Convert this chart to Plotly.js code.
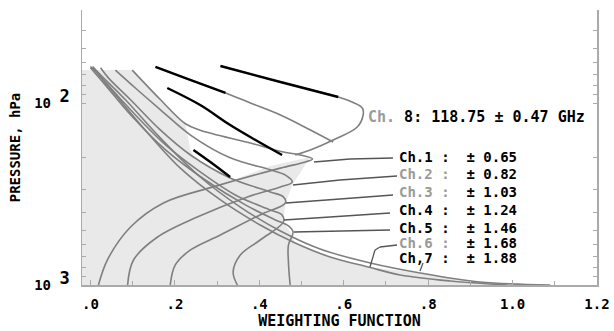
<!DOCTYPE html>
<html><head><meta charset="utf-8">
<script src="https://cdn.plot.ly/plotly-3.0.1.min.js"></script>
<style>html,body{margin:0;padding:0;background:#fff}#c{width:614px;height:331px}</style>
</head><body><div id="c"></div>
<script>
// ---- data (weighting function vs pressure in hPa) ----
const ch1W = [0.019,0.040,0.095,0.173,0.291,0.450,0.509,0.526,0.497,0.457,0.379,0.260,0.225,0.166,0.099];
const ch1P = [1000,729,480,354,289,228,211,203,193,186,166,141,130,96,66];
const ch2W = [0.088,0.102,0.159,0.253,0.372,0.450,0.478,0.462,0.426,0.331,0.237,0.166,0.107,0.059];
const ch2P = [1000,729,545,423,328,289,272,249,233,200,150,109,83,66];
const ch3W = [0.189,0.201,0.237,0.308,0.402,0.462,0.457,0.426,0.331,0.237,0.166,0.095,0.043,0.024];
const ch3P = [1000,776,642,531,412,354,328,308,258,193,141,96,73,64];
const ch4W = [0.348,0.338,0.355,0.402,0.457,0.454,0.426,0.343,0.260,0.178,0.095,0.036,0.007];
const ch4P = [1000,848,684,566,451,412,387,320,239,170,109,77,64];
const ch5W = [0.473,0.469,0.469,0.480,0.469,0.438,0.367,0.272,0.178,0.095,0.036,0.000];
const ch5P = [1000,747,603,511,474,439,363,265,181,116,80,64];
const ch6W = [0.987,0.852,0.734,0.658,0.568,0.485,0.402,0.308,0.213,0.130,0.059,0.012,0.000];
const ch6P = [1000,951,881,796,702,588,468,341,228,141,90,67,63];
const ch7W = [1.089,0.923,0.781,0.663,0.544,0.450,0.355,0.260,0.166,0.083,0.024,0.005];
const ch7P = [1000,963,859,757,634,505,373,255,156,96,70,63];
const ch8W = [0.308,0.450,0.587,0.620,0.644,0.646,0.632,0.575,0.521,0.485];
const ch8P = [62.6,76.7,92.7,98.7,106.5,116.4,135.5,159.7,181.2,193.1];
// second upper curve that joins the Ch.8 loop
const loopW = [0.154,0.225,0.320,0.379,0.450,0.521,0.575];
const loopP = [63.4,72.9,88.1,100,116.4,140.7,163.8];
// darker (black) segments
const blkAW = [0.154,0.225,0.320];
const blkAP = [63.4,72.9,88.1];
const blkBW = [0.182,0.260,0.331,0.391,0.454];
const blkBP = [82.7,102.6,132.1,159.7,193.1];
const blkCW = [0.308,0.450,0.587];
const blkCP = [62.6,76.7,92.7];
const blkDW = [0.244,0.284,0.331];
const blkDP = [181.2,211.0,255.0];
// shaded region outline
const shadeW = [-0.02,0.099,0.166,0.225,0.237,0.249,0.338,0.426,0.521,0.497,0.478,0.462,0.457,0.473,0.485,0.568,0.658,0.781,0.923,1.089,-0.02];
const shadeP = [65.9,65.9,96.3,130.4,181.2,205.7,264.9,221.9,198.0,239.4,282.2,354.4,450.7,511.4,588.0,701.7,796.3,859.3,962.7,1000,1000];
// axis ticks
const xTickVals = [0,0.2,0.4,0.6,0.8,1.0,1.2];
const xTickText = ['.0','.2','.4','.6','.8','1.0','1.2'];
const yTickVals = [100,1000];
const yTickExp = ['2','3'];
const yMinorVals = [40,50,60,70,80,90,200,300,400,500,600,700,800,900];
const chanLabels = ['Ch.1','Ch.2','Ch.3','Ch.4','Ch.5','Ch.6','Ch,7'];
const chanOffsets = ['0.65','0.82','1.03','1.24','1.46','1.68','1.88'];
const chanGrey = [false,true,true,false,false,true,false];

const GREY = '#7f7f7f';
const traces = [];
traces.push({x: shadeW, y: shadeP, type:'scatter', mode:'lines', fill:'toself',
  fillcolor:'#e9e9e9', line:{width:0, color:'rgba(0,0,0,0)'}, hoverinfo:'skip'});
[[ch1W,ch1P],[ch2W,ch2P],[ch3W,ch3P],[ch4W,ch4P],[ch5W,ch5P],[ch6W,ch6P],[ch7W,ch7P],[ch8W,ch8P],[loopW,loopP]].forEach(c=>{
  traces.push({x:c[0], y:c[1], type:'scatter', mode:'lines', line:{color:GREY, width:1.6, shape:'spline', smoothing:1}});
});
[[blkAW,blkAP],[blkBW,blkBP],[blkCW,blkCP],[blkDW,blkDP]].forEach(c=>{
  traces.push({x:c[0], y:c[1], type:'scatter', mode:'lines', line:{color:'#000', width:2.4, shape:'spline'}});
});

const FONT = {family:'DejaVu Sans Mono', size:14, color:'#000', weight:'bold'};
const FONT15 = Object.assign({}, FONT, {size:15});
const px = v => (v-82)/515, py = v => (285-v)/275;
const ann = [];
const shapes = [];
const rowsY = [157,174,192,210,228,243,258];
chanLabels.forEach((lab,i)=>{
  const l = chanGrey[i] ? '<span style="color:#9a9a9a">'+lab+' :</span>' : lab+' :';
  ann.push({xref:'paper', yref:'paper', x:px(397), y:py(rowsY[i]), xanchor:'left', yanchor:'middle',
    text: l+'  ± '+chanOffsets[i], showarrow:false, font:FONT});
});
ann.push({xref:'paper', yref:'paper', x:px(366), y:py(117), xanchor:'left', yanchor:'middle',
  text:'<span style="color:#9a9a9a">Ch.</span> 8: 118.75 ± 0.47 GHz', showarrow:false, font:FONT15});
const leaders = [
  [[393,158],[350,159],[314,162]],
  [[397,176],[340,180],[293,185]],
  [[393,195],[340,199],[286,203]],
  [[390,213],[330,217],[284,220]],
  [[390,230],[294,232]],
  [[397,245],[380,247],[375,250],[370,267]],
  [[423,263],[420,271]]
];
leaders.forEach(pts=>{
  for(let k=0;k<pts.length-1;k++){
    shapes.push({type:'line', xref:'paper', yref:'paper', x0:px(pts[k][0]), y0:py(pts[k][1]),
      x1:px(pts[k+1][0]), y1:py(pts[k+1][1]), line:{color:'#555', width:1.3}});
  }
});

const sup = n => '10 <sup><span style="font-size:17px">'+n+'</span></sup>';
const layout = {
  width:614, height:331, margin:{l:82, r:17, t:10, b:46},
  paper_bgcolor:'#fff', plot_bgcolor:'#fff', showlegend:false,
  xaxis:{range:[-0.02,1.2], autorange:false, tickvals:xTickVals, ticktext:xTickText, showgrid:false, zeroline:false,
    showline:true, linecolor:'#aaa', linewidth:1.5, ticks:'inside', ticklen:5, tickcolor:'#aaa',
    tickfont:FONT, ticklabelstandoff:6,
    minor:{dtick:0.1, ticks:'inside', ticklen:4, tickcolor:'#aaa'},
    title:{text:'WEIGHTING FUNCTION', font:FONT15, standoff:3}},
  yaxis:{type:'log', range:[3,1.489], autorange:false, showgrid:false, zeroline:false,
    showline:true, linecolor:'#aaa', linewidth:1.5, mirror:'ticks', ticks:'inside', ticklen:4, tickcolor:'#aaa',
    tickvals:yTickVals, ticktext:yTickExp.map(sup),
    minor:{tickmode:'array', tickvals:yMinorVals, ticks:'inside', ticklen:4, tickcolor:'#aaa'},
    tickfont:FONT, ticklabelstandoff:8,
    title:{text:'PRESSURE, hPa', font:FONT, standoff:10}},
  annotations: ann, shapes: shapes
};
Plotly.newPlot('c', traces, layout, {staticPlot:true});
</script></body></html>
